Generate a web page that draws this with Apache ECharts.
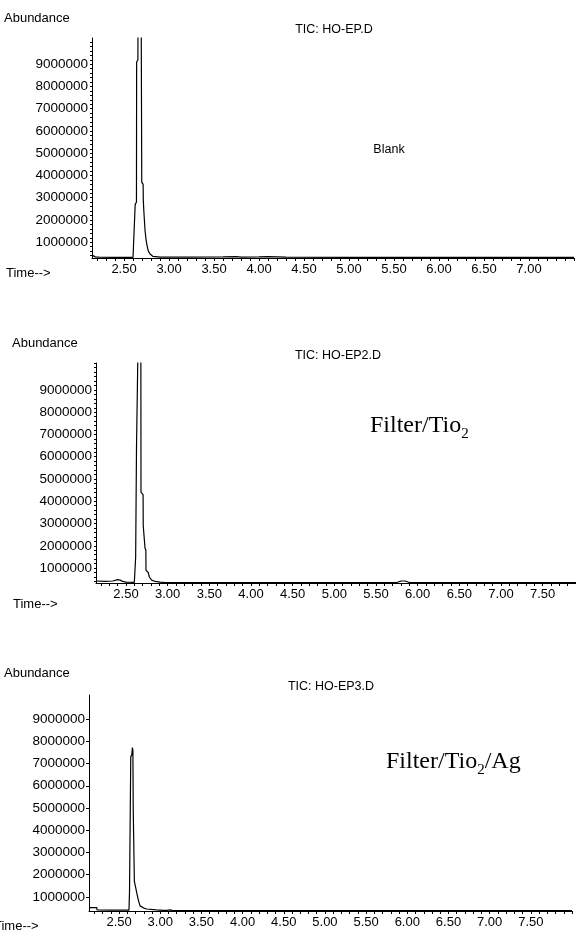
<!DOCTYPE html>
<html>
<head>
<meta charset="utf-8">
<script src="https://cdn.jsdelivr.net/npm/echarts@6/dist/echarts.min.js"></script>
<style>
  html, body { margin: 0; padding: 0; background: #fff; }
  #chart { width: 576px; height: 931px; }
</style>
</head>
<body>
<div id="chart"></div>
<script>
    // TIC chromatograms: blank, filter/TiO2, filter/TiO2/Ag
    const abundanceTicks = [1000000, 2000000, 3000000, 4000000, 5000000, 6000000, 7000000, 8000000, 9000000];
    const timeTicksShort = [2.5, 3.0, 3.5, 4.0, 4.5, 5.0, 5.5, 6.0, 6.5, 7.0];
    const timeTicksLong = [2.5, 3.0, 3.5, 4.0, 4.5, 5.0, 5.5, 6.0, 6.5, 7.0, 7.5];

    // HO-EP.D (Blank)
    const blankTime = [2.144, 2.16, 2.18, 2.22, 2.40, 2.60, 2.622, 2.624, 2.638, 2.640, 2.654, 2.656, 2.690, 2.697, 2.712, 2.714, 2.720, 2.733, 2.745, 2.756, 2.770, 2.789, 2.822, 2.90, 3.20, 3.60, 3.75, 3.80, 4.00, 4.10, 4.30, 5.00, 6.00, 7.00, 7.50];
    const blankAbund = [420000, 380000, 340000, 330000, 320000, 320000, 330000, 2700000, 2800000, 9100000, 9200000, 12000000, 12000000, 3700000, 3600000, 2900000, 2400000, 1550000, 1100000, 850000, 600000, 470000, 360000, 330000, 330000, 340000, 350000, 330000, 340000, 350000, 330000, 320000, 320000, 320000, 320000];

    // HO-EP2.D (Filter/TiO2)
    const ep2Time = [2.14, 2.25, 2.34, 2.36, 2.40, 2.43, 2.46, 2.50, 2.60, 2.614, 2.616, 2.626, 2.646, 2.648, 2.678, 2.680, 2.705, 2.707, 2.726, 2.728, 2.738, 2.740, 2.755, 2.767, 2.780, 2.808, 2.85, 2.908, 2.968, 3.50, 5.75, 5.80, 5.85, 5.90, 6.90, 7.90];
    const ep2Abund = [420000, 400000, 420000, 500000, 480000, 460000, 400000, 370000, 360000, 360000, 1500000, 6400000, 6400000, 12000000, 12000000, 4400000, 4300000, 2900000, 2900000, 1900000, 1800000, 900000, 850000, 800000, 600000, 460000, 400000, 370000, 350000, 350000, 350000, 420000, 420000, 350000, 350000, 350000];

    // HO-EP3.D (Filter/TiO2/Ag)
    const ep3Time = [2.135, 2.23, 2.232, 2.40, 2.62, 2.625, 2.627, 2.640, 2.642, 2.655, 2.662, 2.668, 2.672, 2.684, 2.686, 2.700, 2.715, 2.735, 2.755, 2.80, 2.837, 2.95, 3.035, 3.05, 3.08, 3.12, 3.15, 4.00, 7.00, 8.00];
    const ep3Abund = [520000, 520000, 420000, 410000, 410000, 420000, 1240000, 1240000, 7300000, 7400000, 7720000, 7600000, 4960000, 4900000, 1700000, 1450000, 1180000, 850000, 600000, 500000, 460000, 420000, 400000, 430000, 400000, 420000, 390000, 390000, 390000, 390000];

    const panels = [
        { time: blankTime, abund: blankAbund, xTicks: timeTicksShort, xMin: 2.144, xMax: 7.5, yMin: 290000, yMax: 10180000,
          grid: { left: 92, top: 38, width: 482, height: 220 }, minorY: true },
        { time: ep2Time, abund: ep2Abund, xTicks: timeTicksLong, xMin: 2.14, xMax: 7.9, yMin: 330000, yMax: 10210000,
          grid: { left: 96, top: 363, width: 480, height: 220 }, minorY: true },
        { time: ep3Time, abund: ep3Abund, xTicks: timeTicksLong, xMin: 2.135, xMax: 8.0, yMin: 370000, yMax: 10080000,
          grid: { left: 89, top: 695, width: 483, height: 216 }, minorY: false }
    ];

    const FONT = 'Liberation Sans, Arial, sans-serif';
    const SERIF = 'Liberation Serif, Times New Roman, serif';

    // tick positions (styling only)
    function stepValues(from, to, step) {
        const out = [];
        for (let v = from; v <= to + 1e-9; v += step) out.push(Math.round(v * 1e6) / 1e6);
        return out;
    }

    const grids = [], xAxes = [], yAxes = [], series = [];
    panels.forEach((p, i) => {
        grids.push(p.grid);
        xAxes.push({
            type: 'value',
            gridIndex: i,
            min: p.xMin,
            max: p.xMax,
            splitLine: { show: false },
            axisLine: { lineStyle: { color: '#000', width: 1 } },
            axisTick: {
                show: true,
                customValues: stepValues(2.2, p.xMax, 0.1),
                length: 3,
                lineStyle: { color: '#000' }
            },
            axisLabel: {
                customValues: p.xTicks,
                formatter: v => v.toFixed(2),
                color: '#000',
                fontFamily: FONT,
                fontSize: 13,
                margin: 5
            }
        });
        yAxes.push({
            type: 'value',
            gridIndex: i,
            min: p.yMin,
            max: p.yMax,
            splitLine: { show: false },
            axisLine: { show: true, lineStyle: { color: '#000', width: 1 } },
            axisTick: {
                show: true,
                customValues: p.minorY ? stepValues(400000, p.yMax, 200000) : abundanceTicks,
                length: p.minorY ? 2 : 3,
                lineStyle: { color: '#000' }
            },
            axisLabel: {
                customValues: abundanceTicks,
                formatter: v => String(v),
                color: '#000',
                fontFamily: FONT,
                fontSize: 13.5,
                margin: 4
            }
        });
        series.push({
            type: 'line',
            xAxisIndex: i,
            yAxisIndex: i,
            data: p.time.map((t, k) => [t, p.abund[k]]),
            symbol: 'none',
            clip: true,
            lineStyle: { color: '#000', width: 1.2 },
            animation: false
        });
    });

    function txt(x, y, text, opts) {
        return {
            type: 'text',
            x: x,
            y: y,
            style: Object.assign({
                text: text,
                fill: '#000',
                font: '13px ' + FONT,
                textAlign: 'left',
                textVerticalAlign: 'middle'
            }, opts || {})
        };
    }

    // main text raised a little so the "2" sits as a subscript
    const subRich = {
        a: { fontFamily: SERIF, fontSize: 24, color: '#000', verticalAlign: 'bottom', lineHeight: 26, padding: [0, 0, 4, 0] },
        b: { fontFamily: SERIF, fontSize: 15, color: '#000', verticalAlign: 'bottom', lineHeight: 16 }
    };

    const graphics = [
        txt(4, 18, 'Abundance'),
        txt(6, 273, 'Time-->'),
        txt(334, 30, 'TIC: HO-EP.D', { textAlign: 'center', font: '12.5px ' + FONT }),
        txt(389, 150, 'Blank', { textAlign: 'center', font: '12.5px ' + FONT }),

        txt(12, 343, 'Abundance'),
        txt(13, 604, 'Time-->'),
        txt(338, 356, 'TIC: HO-EP2.D', { textAlign: 'center', font: '12.5px ' + FONT }),
        { type: 'text', x: 370, y: 429, style: { text: '{a|Filter/Tio}{b|2}', rich: subRich, textVerticalAlign: 'middle' } },

        txt(4, 673, 'Abundance'),
        txt(-6, 926, 'Time-->'),
        txt(331, 687, 'TIC: HO-EP3.D', { textAlign: 'center', font: '12.5px ' + FONT }),
        { type: 'text', x: 386, y: 765, style: { text: '{a|Filter/Tio}{b|2}{a|/Ag}', rich: subRich, textVerticalAlign: 'middle' } }
    ];

    const chart = echarts.init(document.getElementById('chart'), null, { renderer: 'canvas' });
    chart.setOption({
        backgroundColor: '#fff',
        animation: false,
        grid: grids,
        xAxis: xAxes,
        yAxis: yAxes,
        series: series,
        graphic: graphics
    });
</script>
</body>
</html>
